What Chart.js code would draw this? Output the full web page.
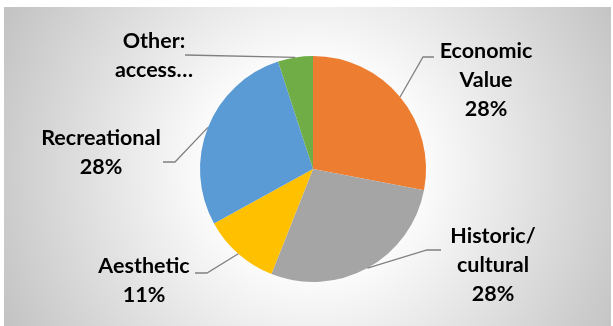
<!DOCTYPE html>
<html>
<head>
<meta charset="utf-8">
<title>Pie chart</title>
<script src="https://cdn.jsdelivr.net/npm/chart.js@4.4.1/dist/chart.umd.min.js"></script>
<style>
  html, body { margin: 0; padding: 0; background: #ffffff; }
  #wrap { position: relative; width: 613px; height: 326px; overflow: hidden; }
  #frame {
    position: absolute; left: 4px; top: 7px; width: 607px; height: 319px;
    background: radial-gradient(circle 340px at 309px 162px, #ffffff 0%, #ffffff 28%, #e9e9e9 55%, #c4c4c4 100%);
  }
  #pieChart { position: absolute; left: 0; top: 0; }
</style>
</head>
<body>
<div id="wrap">
  <div id="frame"></div>
  <canvas id="pieChart" width="613" height="326"></canvas>
</div>
<script>
// slices, clockwise from 12 o'clock
var categories = ['Economic Value', 'Historic/cultural', 'Aesthetic', 'Recreational', 'Other: access...'];
var shares = [28, 28, 11, 28, 5];
var sliceColors = ['#ED7D31', '#A5A5A5', '#FFC000', '#5B9BD5', '#70AD47'];

// what the label shows (the "Other" label is cut short, no percent)
var labelLines = [['Economic', 'Value'], ['Historic/', 'cultural'], ['Aesthetic'], ['Recreational'], ['Other:', 'access\u2026']];
var showPercent = [true, true, true, true, false];

// label placement, offsets from the pie centre (text centre x, first baseline y, leader bends)
var labelPlacement = [
    { dx: 173, dy: -111, leader: [[110, -112], [121, -112]] },
    { dx: 180, dy: 74, leader: [[114, 81], [128, 81]] },
    { dx: -169, dy: 104, leader: [[-106, 104], [-118, 104]] },
    { dx: -212, dy: -24, leader: [[-138, -7], [-150, -7]] },
    { dx: -159, dy: -121, leader: [[-128, -114]] }
];

var sliceLabels = {
    id: 'sliceLabels',
    afterDatasetsDraw: function (chart) {
        var ctx = chart.ctx;
        var meta = chart.getDatasetMeta(0);
        var total = shares.reduce(function (a, b) { return a + b; }, 0);
        ctx.save();
        meta.data.forEach(function (arc, i) {
            var p = arc.getProps(['x', 'y', 'startAngle', 'endAngle', 'outerRadius'], true);
            var mid = (p.startAngle + p.endAngle) / 2;
            var place = labelPlacement[i];

            // leader line from the slice edge
            ctx.beginPath();
            ctx.moveTo(p.x + Math.cos(mid) * p.outerRadius, p.y + Math.sin(mid) * p.outerRadius);
            place.leader.forEach(function (pt) { ctx.lineTo(p.x + pt[0], p.y + pt[1]); });
            ctx.strokeStyle = '#808080';
            ctx.lineWidth = 1.3;
            ctx.stroke();

            var lines = labelLines[i].slice();
            if (showPercent[i]) lines.push(Math.round(shares[i] / total * 100) + '%');
            ctx.fillStyle = '#000000';
            ctx.font = 'bold 21.5px Lato';
            ctx.textAlign = 'center';
            ctx.textBaseline = 'alphabetic';
            lines.forEach(function (t, k) {
                ctx.fillText(t, p.x + place.dx, p.y + place.dy + k * 29);
            });
        });
        ctx.restore();
    }
};

document.addEventListener('DOMContentLoaded', function () {
    var ctx = document.getElementById('pieChart').getContext('2d');
    new Chart(ctx, {
        type: 'pie',
        data: {
            labels: categories,
            datasets: [{
                data: shares,
                backgroundColor: sliceColors,
                borderWidth: 0
            }]
        },
        options: {
            responsive: false,
            animation: false,
            layout: { padding: { left: 13, right: 0, top: 56, bottom: 44 } },
            plugins: {
                legend: { display: false },
                tooltip: { enabled: false }
            }
        },
        plugins: [sliceLabels]
    });
});
</script>
</body>
</html>
